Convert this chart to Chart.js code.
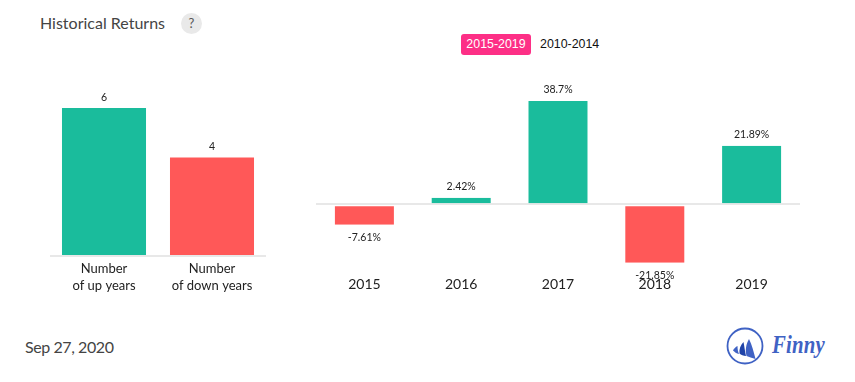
<!DOCTYPE html>
<html><head><meta charset="utf-8">
<script src="https://cdn.jsdelivr.net/npm/chart.js@4"></script>
<style>
html,body{margin:0;padding:0;background:#fff;width:855px;height:382px;overflow:hidden;font-family:Lato,sans-serif}
.abs{position:absolute;white-space:nowrap}
canvas{position:absolute}
</style></head><body>
<div class="abs" style="left:40px;top:13px;font-size:16px;line-height:20px;color:#444">Historical Returns</div>
<div class="abs" style="left:181px;top:13px;width:21px;height:21px;border-radius:50%;background:#e9e9e9;color:#555;font-size:13px;line-height:21px;text-align:center">?</div>
<div class="abs" style="left:461px;top:34px;width:70px;height:21px;border-radius:3px;background:#fd2f86;color:#fff;font:12.4px/21px 'Liberation Sans',sans-serif;text-align:center">2015-2019</div>
<div class="abs" style="left:540px;top:34px;color:#111;font:12.4px/21px 'Liberation Sans',sans-serif">2010-2014</div>
<div class="abs" style="left:25px;top:337px;font-size:16px;line-height:20px;letter-spacing:-0.42px;color:#444">Sep 27, 2020</div>
<svg class="abs" style="left:725px;top:326px" width="40" height="40" viewBox="0 0 40 40">
<circle cx="20" cy="20" r="17.5" fill="none" stroke="#3f62c4" stroke-width="1.8"/>
<path d="M24 13 C27 19 29 27 30.5 33 C27 32 24 31 21.5 30 C20 24 21 18 24 13Z" fill="#3f62c4"/>
<path d="M18.5 16 C19.5 21 20 26 21 30 C18.5 30 16 29 14.5 27.5 C14 23 15.5 19 18.5 16Z" fill="#1f43a8"/>
<path d="M12.5 20 C12.5 23 13 26 14 28 C11.5 27.5 9.5 26 8 24.5 C9 22.5 10.5 21 12.5 20Z" fill="#3f62c4"/>
</svg>
<div class="abs" style="left:772px;top:330px;font:italic bold 26px/30px 'Liberation Serif',serif;letter-spacing:0.2px;color:#3f62c4;transform:scaleX(0.8);transform-origin:left center">Finny</div>
<canvas id="left" style="left:50px;top:60px"></canvas>
<canvas id="right" style="left:316px;top:60px"></canvas>
<script>
const countLabels = [["Number","of up years"],["Number","of down years"]];
const countValues = [6,4];
const years = ["2015","2016","2017","2018","2019"];
const returns = [-7.61,2.42,38.7,-21.85,21.89];
const returnLabels = ["-7.61%","2.42%","38.7%","-21.85%","21.89%"];
const GREEN="#1abc9c", RED="#ff5858", LINE="#e8e8e8";

const valueLabels = {
  id:'valueLabels',
  afterDatasetsDraw(chart,args,opts){
    const c=chart.ctx; const meta=chart.getDatasetMeta(0);
    c.save(); c.font="10.5px Lato"; c.fillStyle="#222"; c.textAlign="center";
    meta.data.forEach((bar,i)=>{
      const v=chart.data.datasets[0].data[i];
      c.textBaseline="middle";
      const y = v>=0 ? bar.y-opts.up : bar.y+opts.down;
      c.fillText(opts.labels[i],bar.x,y);
    });
    c.restore();
  }
};

function makeChart(id,w,h,labels,values,colors,min,max,barPct,axisH,tickPad,tickSize,texts,up,down,sideBorder){
  const el=document.getElementById(id);
  el.width=w; el.height=h;
  el.style.width=w+'px'; el.style.height=h+'px';
  return new Chart(el,{
    type:'bar',
    data:{labels:labels,datasets:[{data:values,backgroundColor:colors,borderColor:'#fff',
      borderWidth:(ctx)=>({left:sideBorder,right:sideBorder,top:(sideBorder&&ctx.raw<0)?1:0,bottom:0}),
      borderSkipped:false,barPercentage:barPct,categoryPercentage:1}]},
    plugins:[valueLabels],
    options:{
      responsive:false,animation:false,devicePixelRatio:1,
      layout:{padding:0},
      plugins:{legend:{display:false},tooltip:{enabled:false},valueLabels:{labels:texts,up:up,down:down}},
      scales:{
        x:{grid:{display:false},border:{display:false},
           ticks:{color:'#222',font:{family:'Lato',size:tickSize,lineHeight:1.3},padding:tickPad,maxRotation:0,autoSkip:false},
           afterFit(s){s.height=axisH;}},
        y:{min:min,max:max,border:{display:false},
           grid:{color:LINE,lineWidth:2,drawTicks:false},
           ticks:{display:false},
           afterBuildTicks(s){s.ticks=[{value:0}];},
           afterFit(s){s.width=0;}}
      }
    }
  });
}
makeChart('left',216,240,countLabels,countValues,[GREEN,RED],0,7.95,0.778,44,-4,13,["6","4"],10.5,11,0);
makeChart('right',484,240,years,returns,[RED,GREEN,GREEN,RED,GREEN],-24.2,54,0.63,31,-2,14,returnLabels,11,13,1);
</script>
</body></html>
